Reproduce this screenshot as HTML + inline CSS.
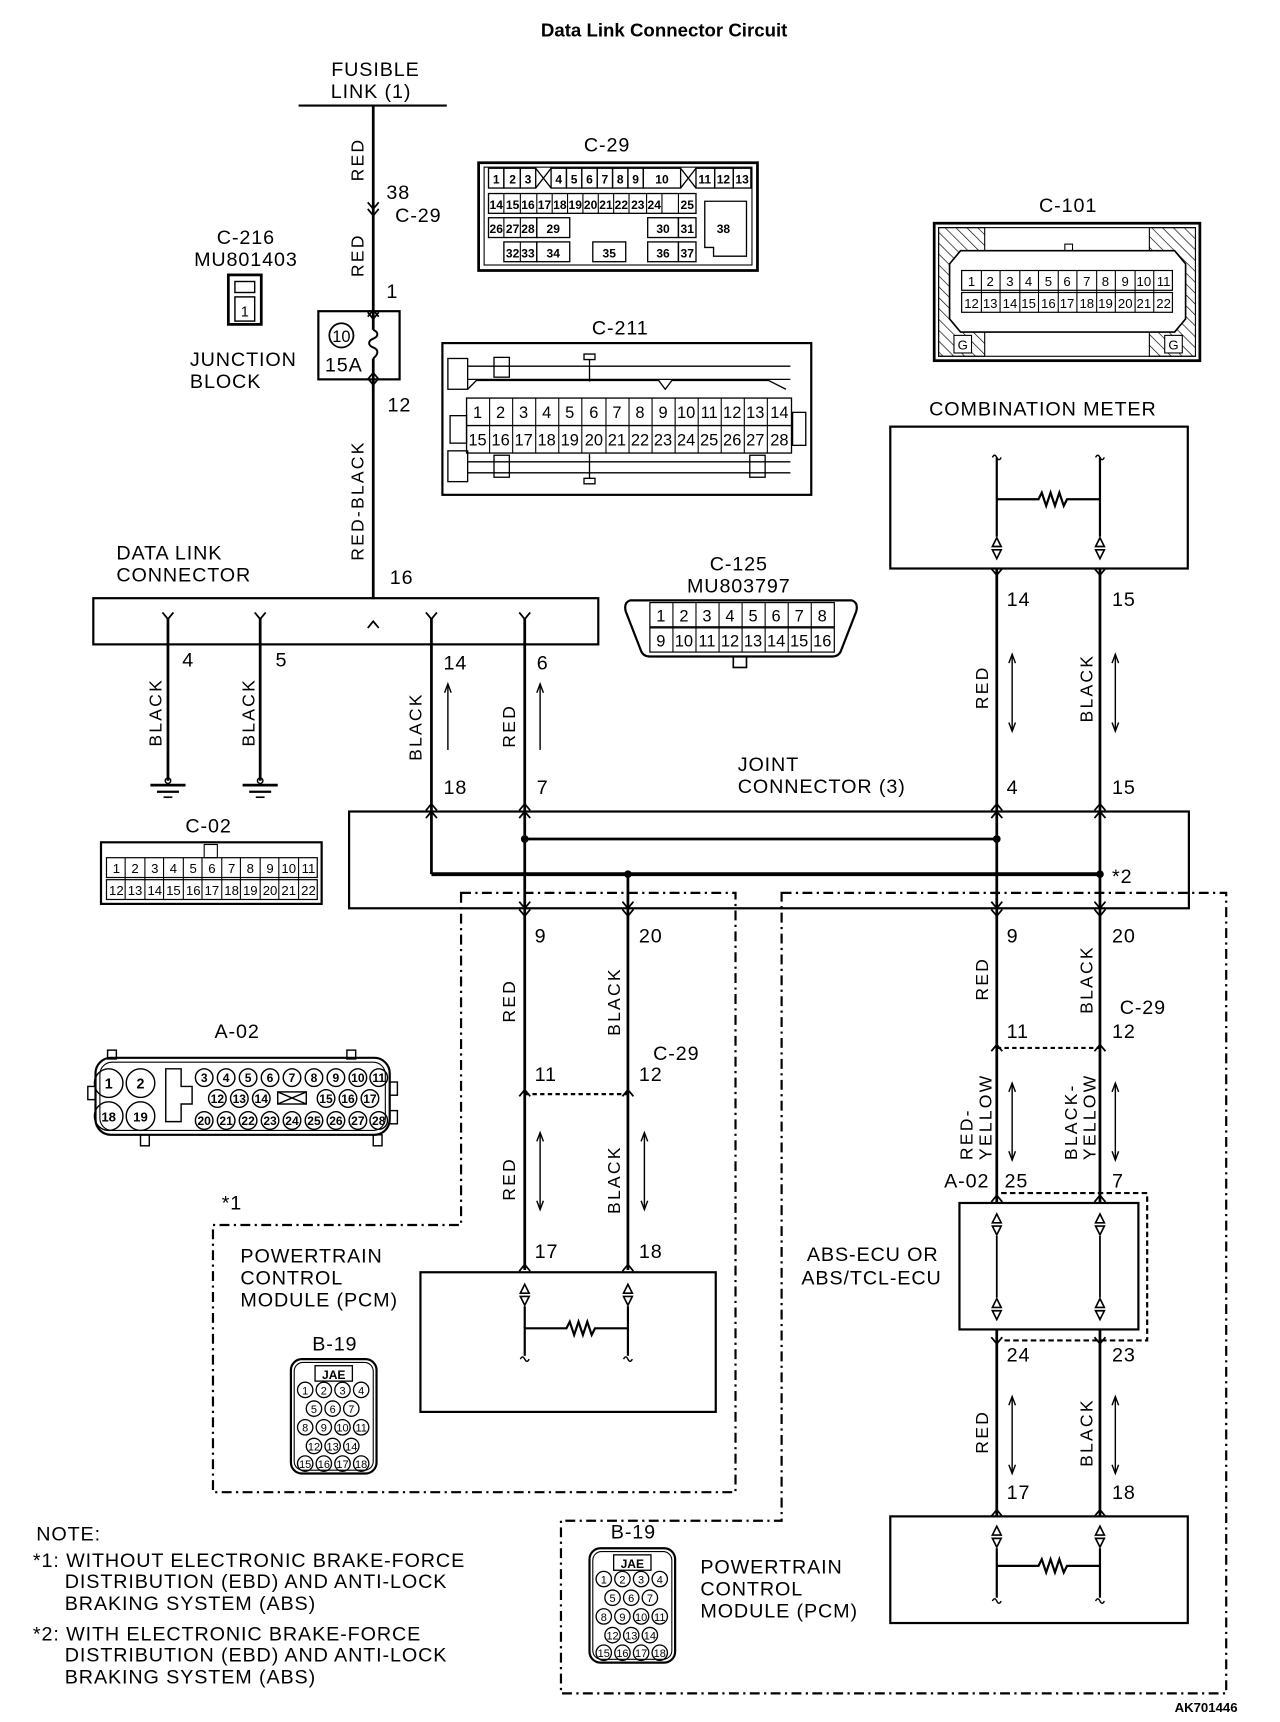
<!DOCTYPE html>
<html><head><meta charset="utf-8"><style>
html,body{margin:0;padding:0;background:#fff}
svg{display:block}
text{font-family:"Liberation Sans",sans-serif;fill:#000}
.t{font-size:18px;letter-spacing:0.8px}
.v{font-size:16px;letter-spacing:2px}
.n{font-size:12px;text-anchor:middle}
.nb{font-size:11px;text-anchor:middle;font-weight:bold}
</style></head><body>
<svg width="1280" height="1722" viewBox="0 0 1166 1566" preserveAspectRatio="none" xmlns="http://www.w3.org/2000/svg">
<defs>
<g id="dn"><path d="M-5,-6 L0,0 L5,-6" fill="none" stroke="#000" stroke-width="1.6"/></g>
<g id="up"><path d="M-5,6 L0,0 L5,6" fill="none" stroke="#000" stroke-width="1.6"/></g>
<g id="tri"><path d="M-4,-1 L0,-9 L4,-1 Z" fill="none" stroke="#000" stroke-width="1.5"/><path d="M-4,2 L0,10 L4,2 Z" fill="none" stroke="#000" stroke-width="1.5"/></g>
<g id="res"><path d="M0,0 h38 l3,-6 l4,12 l4,-12 l4,12 l4,-12 l4,12 l3,-6 h30" fill="none" stroke="#000" stroke-width="2"/></g>
<g id="arud"><line x1="0" y1="0" x2="0" y2="70" stroke="#000" stroke-width="1.3"/><path d="M-3,8 L0,0 L3,8 M-3,62 L0,70 L3,62" fill="none" stroke="#000" stroke-width="1.3"/></g>
<g id="aru"><line x1="0" y1="0" x2="0" y2="60" stroke="#000" stroke-width="1.3"/><path d="M-3,8 L0,0 L3,8" fill="none" stroke="#000" stroke-width="1.3"/></g>
<g id="gnd"><circle cx="0" cy="-3" r="2.5" fill="none" stroke="#000" stroke-width="1.3"/><line x1="-16" y1="1" x2="16" y2="1" stroke="#000" stroke-width="2.5"/><line x1="-10" y1="7" x2="10" y2="7" stroke="#000" stroke-width="2"/><line x1="-4" y1="12" x2="4" y2="12" stroke="#000" stroke-width="1.5"/></g>
<g id="b19"><rect x="0" y="0" width="78" height="104" rx="10" fill="none" stroke="#000" stroke-width="2"/><rect x="3" y="3" width="72" height="98" rx="8" fill="none" stroke="#000" stroke-width="1"/>
<rect x="22" y="6" width="34" height="14" fill="none" stroke="#000" stroke-width="1.2"/><text x="39" y="18" class="nb">JAE</text>
<g fill="none" stroke="#000" stroke-width="1.2">
<circle cx="13" cy="28" r="7"/><circle cx="30" cy="28" r="7"/><circle cx="47" cy="28" r="7"/><circle cx="64" cy="28" r="7"/>
<circle cx="21" cy="45" r="7"/><circle cx="38" cy="45" r="7"/><circle cx="55" cy="45" r="7"/>
<circle cx="13" cy="62" r="7"/><circle cx="30" cy="62" r="7"/><circle cx="47" cy="62" r="7"/><circle cx="64" cy="62" r="7"/>
<circle cx="21" cy="79" r="7"/><circle cx="38" cy="79" r="7"/><circle cx="55" cy="79" r="7"/>
<circle cx="13" cy="95" r="7"/><circle cx="30" cy="95" r="7"/><circle cx="47" cy="95" r="7"/><circle cx="64" cy="95" r="7"/></g>
<g font-size="10" text-anchor="middle">
<text x="13" y="32">1</text><text x="30" y="32">2</text><text x="47" y="32">3</text><text x="64" y="32">4</text>
<text x="21" y="49">5</text><text x="38" y="49">6</text><text x="55" y="49">7</text>
<text x="13" y="66">8</text><text x="30" y="66">9</text><text x="47" y="66">10</text><text x="64" y="66">11</text>
<text x="21" y="83">12</text><text x="38" y="83">13</text><text x="55" y="83">14</text>
<text x="13" y="99">15</text><text x="30" y="99">16</text><text x="47" y="99">17</text><text x="64" y="99">18</text></g></g>
</defs>

<text x="605" y="33" font-size="17" font-weight="bold" text-anchor="middle">Data Link Connector Circuit</text>

<text x="342" y="69" class="t" text-anchor="middle">FUSIBLE</text>
<text x="338" y="89" class="t" text-anchor="middle">LINK (1)</text>
<line x1="272" y1="96" x2="407" y2="96" stroke="#000" stroke-width="2"/>
<line x1="340" y1="96" x2="340" y2="545" stroke="#000" stroke-width="2.5"/>
<text transform="translate(331,165) rotate(-90)" class="v">RED</text>
<text x="352" y="181" class="t">38</text><text x="360" y="202" class="t">C-29</text>
<use href="#dn" x="340" y="190"/><use href="#dn" x="340" y="196"/>
<text transform="translate(331,252) rotate(-90)" class="v">RED</text>
<text x="352" y="271" class="t">1</text>
<rect x="290" y="283" width="74" height="62" fill="#fff" stroke="#000" stroke-width="2"/>
<line x1="340" y1="283" x2="340" y2="300" stroke="#000" stroke-width="2.5"/>
<line x1="340" y1="326" x2="340" y2="345" stroke="#000" stroke-width="2.5"/>
<path d="M340,300 c5,2 5,6 0,8 c-5,2 -5,6 0,8 c5,2 5,6 0,10" fill="none" stroke="#000" stroke-width="1.8"/>
<use href="#up" x="340" y="282"/><use href="#dn" x="340" y="290"/>
<use href="#up" x="340" y="339"/><use href="#dn" x="340" y="350"/>
<circle cx="311" cy="305" r="11" fill="none" stroke="#000" stroke-width="1.6"/>
<text x="311" y="311" font-size="15" text-anchor="middle">10</text>
<text x="296" y="338" class="t">15A</text>
<text x="353" y="374" class="t">12</text>
<text transform="translate(331,510) rotate(-90)" class="v">RED-BLACK</text>
<text x="355" y="531" class="t">16</text>

<text x="224" y="222" class="t" text-anchor="middle">C-216</text>
<text x="224" y="242" class="t" text-anchor="middle">MU801403</text>
<rect x="208" y="250" width="30" height="45" fill="none" stroke="#000" stroke-width="2.5"/>
<rect x="214" y="256" width="18" height="10" fill="none" stroke="#000" stroke-width="1.3"/>
<rect x="214" y="270" width="18" height="22" fill="none" stroke="#000" stroke-width="1.3"/>
<text x="223" y="288" font-size="13" text-anchor="middle">1</text>
<text x="173" y="333" class="t">JUNCTION</text><text x="173" y="353" class="t">BLOCK</text>

<text x="106" y="509" class="t">DATA LINK</text><text x="106" y="529" class="t">CONNECTOR</text>
<rect x="85" y="544" width="460" height="42" fill="none" stroke="#000" stroke-width="2"/>
<g stroke="#000" stroke-width="2.5">
<line x1="153" y1="562" x2="153" y2="710"/><line x1="237" y1="562" x2="237" y2="710"/>
<line x1="393" y1="562" x2="393" y2="738"/><line x1="478" y1="562" x2="478" y2="738"/>
</g>
<use href="#dn" x="153" y="563"/><use href="#dn" x="237" y="563"/><use href="#dn" x="393" y="563"/><use href="#dn" x="478" y="563"/>
<use href="#up" x="340" y="565"/>
<use href="#gnd" x="153" y="713"/><use href="#gnd" x="237" y="713"/>
<text x="166" y="606" class="t">4</text><text x="251" y="606" class="t">5</text>
<text x="404" y="609" class="t">14</text><text x="489" y="609" class="t">6</text>
<text transform="translate(147,679) rotate(-90)" class="v">BLACK</text>
<text transform="translate(232,679) rotate(-90)" class="v">BLACK</text>
<text transform="translate(384,692) rotate(-90)" class="v">BLACK</text>
<text transform="translate(469,680) rotate(-90)" class="v">RED</text>
<use href="#aru" x="408" y="622"/><use href="#aru" x="492" y="622"/>
<text x="404" y="722" class="t">18</text><text x="489" y="722" class="t">7</text>

<text x="672" y="701" class="t">JOINT</text><text x="672" y="721" class="t">CONNECTOR (3)</text>
<text x="917" y="722" class="t">4</text><text x="1013" y="722" class="t">15</text>

<rect x="318" y="738" width="765" height="88" fill="none" stroke="#000" stroke-width="2"/>
<g stroke="#000" stroke-width="2.5">
<line x1="393" y1="738" x2="393" y2="795"/>
<line x1="478" y1="738" x2="478" y2="1155"/>
<line x1="572" y1="795" x2="572" y2="1155"/>
<line x1="908" y1="517" x2="908" y2="1395"/>
<line x1="1002" y1="517" x2="1002" y2="1395"/>
</g>
<line x1="478" y1="763" x2="908" y2="763" stroke="#000" stroke-width="2.5"/>
<line x1="393" y1="795" x2="1002" y2="795" stroke="#000" stroke-width="3.5"/>
<circle cx="478" cy="763" r="3.5"/><circle cx="908" cy="763" r="3.5"/><circle cx="572" cy="795" r="3.5"/><circle cx="1002" cy="795" r="3.5"/>
<text x="1013" y="803" class="t">*2</text>
<g>
<use href="#up" x="393" y="731"/><use href="#up" x="393" y="738"/>
<use href="#up" x="478" y="731"/><use href="#up" x="478" y="738"/>
<use href="#up" x="908" y="731"/><use href="#up" x="908" y="738"/>
<use href="#up" x="1002" y="731"/><use href="#up" x="1002" y="738"/>
<use href="#dn" x="478" y="826"/><use href="#dn" x="478" y="833"/>
<use href="#dn" x="572" y="826"/><use href="#dn" x="572" y="833"/>
<use href="#dn" x="908" y="826"/><use href="#dn" x="908" y="833"/>
<use href="#dn" x="1002" y="826"/><use href="#dn" x="1002" y="833"/>
</g>

<text x="487" y="857" class="t">9</text><text x="582" y="857" class="t">20</text>
<text transform="translate(469,930) rotate(-90)" class="v">RED</text>
<text transform="translate(565,942) rotate(-90)" class="v">BLACK</text>
<text x="595" y="964" class="t">C-29</text>
<text x="487" y="983" class="t">11</text><text x="582" y="983" class="t">12</text>
<line x1="478" y1="995" x2="572" y2="995" stroke="#000" stroke-width="2" stroke-dasharray="4,3"/>
<use href="#up" x="478" y="991"/><use href="#up" x="572" y="991"/>
<text transform="translate(469,1092) rotate(-90)" class="v">RED</text>
<text transform="translate(565,1104) rotate(-90)" class="v">BLACK</text>
<use href="#arud" x="492" y="1030"/><use href="#arud" x="587" y="1030"/>
<text x="487" y="1144" class="t">17</text><text x="582" y="1144" class="t">18</text>
<use href="#up" x="478" y="1150"/><use href="#up" x="572" y="1150"/>
<rect x="383" y="1157" width="269" height="127" fill="none" stroke="#000" stroke-width="2"/>
<use href="#tri" x="478" y="1177"/><use href="#tri" x="572" y="1177"/>
<line x1="478" y1="1188" x2="478" y2="1233" stroke="#000" stroke-width="2"/>
<line x1="572" y1="1188" x2="572" y2="1233" stroke="#000" stroke-width="2"/>
<use href="#res" x="478" y="1208"/>
<path d="M474,1236 q2,-4 4,0 q2,4 4,0 M568,1236 q2,-4 4,0 q2,4 4,0" fill="none" stroke="#000" stroke-width="1.3"/>

<path d="M420,812 L670,812 L670,1357 L194,1357 L194,1114 L420,1114 Z" fill="none" stroke="#000" stroke-width="2" stroke-dasharray="9,4,2,4"/>
<text x="202" y="1100" class="t">*1</text>
<text x="219" y="1148" class="t">POWERTRAIN</text><text x="219" y="1168" class="t">CONTROL</text><text x="219" y="1188" class="t">MODULE (PCM)</text>
<text x="305" y="1228" class="t" text-anchor="middle">B-19</text>
<use href="#b19" x="265" y="1236"/>

<text x="950" y="378" class="t" text-anchor="middle">COMBINATION METER</text>
<rect x="811" y="388" width="271" height="129" fill="none" stroke="#000" stroke-width="2"/>
<line x1="908" y1="416" x2="908" y2="488" stroke="#000" stroke-width="2"/>
<line x1="1002" y1="416" x2="1002" y2="488" stroke="#000" stroke-width="2"/>
<path d="M904,416 q2,-4 4,0 q2,4 4,0 M998,416 q2,-4 4,0 q2,4 4,0" fill="none" stroke="#000" stroke-width="1.3"/>
<use href="#res" x="908" y="454"/>
<use href="#tri" x="908" y="498"/><use href="#tri" x="1002" y="498"/>
<use href="#dn" x="908" y="523"/><use href="#dn" x="1002" y="523"/>
<text x="917" y="551" class="t">14</text><text x="1013" y="551" class="t">15</text>
<text transform="translate(900,645) rotate(-90)" class="v">RED</text>
<text transform="translate(995,657) rotate(-90)" class="v">BLACK</text>
<use href="#arud" x="922" y="595"/><use href="#arud" x="1016" y="595"/>

<text x="917" y="857" class="t">9</text><text x="1013" y="857" class="t">20</text>
<text transform="translate(900,910) rotate(-90)" class="v">RED</text>
<text transform="translate(995,922) rotate(-90)" class="v">BLACK</text>
<text x="1020" y="922" class="t">C-29</text>
<text x="917" y="944" class="t">11</text><text x="1013" y="944" class="t">12</text>
<line x1="908" y1="953" x2="1002" y2="953" stroke="#000" stroke-width="2" stroke-dasharray="4,3"/>
<use href="#up" x="908" y="950"/><use href="#up" x="1002" y="950"/>
<text transform="translate(886,1055) rotate(-90)" class="v">RED-</text>
<text transform="translate(903,1055) rotate(-90)" class="v">YELLOW</text>
<text transform="translate(981,1055) rotate(-90)" class="v">BLACK-</text>
<text transform="translate(998,1055) rotate(-90)" class="v">YELLOW</text>
<use href="#arud" x="922" y="985"/><use href="#arud" x="1016" y="985"/>
<text x="860" y="1080" class="t">A-02</text><text x="915" y="1080" class="t">25</text><text x="1013" y="1080" class="t">7</text>
<use href="#up" x="908" y="1087"/><use href="#up" x="1002" y="1087"/>
<rect x="874" y="1094" width="163" height="115" fill="#fff" stroke="#000" stroke-width="2"/>
<path d="M912,1085 L1045,1085 L1045,1219 L912,1219" fill="none" stroke="#000" stroke-width="2" stroke-dasharray="5,3"/>
<use href="#tri" x="908" y="1113"/><use href="#tri" x="1002" y="1113"/>
<use href="#tri" x="908" y="1190"/><use href="#tri" x="1002" y="1190"/>
<line x1="908" y1="1124" x2="908" y2="1180" stroke="#000" stroke-width="1.6"/>
<line x1="1002" y1="1124" x2="1002" y2="1180" stroke="#000" stroke-width="1.6"/>
<text x="735" y="1147" class="t">ABS-ECU OR</text><text x="730" y="1168" class="t">ABS/TCL-ECU</text>
<use href="#dn" x="908" y="1222"/><use href="#dn" x="1002" y="1222"/>
<text x="917" y="1238" class="t">24</text><text x="1013" y="1238" class="t">23</text>
<text transform="translate(900,1322) rotate(-90)" class="v">RED</text>
<text transform="translate(995,1334) rotate(-90)" class="v">BLACK</text>
<use href="#arud" x="922" y="1270"/><use href="#arud" x="1016" y="1270"/>
<text x="917" y="1363" class="t">17</text><text x="1013" y="1363" class="t">18</text>
<use href="#up" x="908" y="1373"/><use href="#up" x="1002" y="1373"/>
<rect x="811" y="1379" width="271" height="97" fill="#fff" stroke="#000" stroke-width="2"/>
<use href="#tri" x="908" y="1397"/><use href="#tri" x="1002" y="1397"/>
<line x1="908" y1="1408" x2="908" y2="1453" stroke="#000" stroke-width="2"/>
<line x1="1002" y1="1408" x2="1002" y2="1453" stroke="#000" stroke-width="2"/>
<use href="#res" x="908" y="1424"/>
<path d="M904,1456 q2,-4 4,0 q2,4 4,0 M998,1456 q2,-4 4,0 q2,4 4,0" fill="none" stroke="#000" stroke-width="1.3"/>

<path d="M712,812 L1117,812 L1117,1540 L511,1540 L511,1383 L712,1383 Z" fill="none" stroke="#000" stroke-width="2" stroke-dasharray="9,4,2,4"/>
<text x="577" y="1399" class="t" text-anchor="middle">B-19</text>
<use href="#b19" x="537" y="1408"/>
<text x="638" y="1431" class="t">POWERTRAIN</text><text x="638" y="1451" class="t">CONTROL</text><text x="638" y="1471" class="t">MODULE (PCM)</text>

<g>
<text x="33" y="1401" class="t">NOTE:</text>
<text x="30" y="1425" class="t">*1: WITHOUT ELECTRONIC BRAKE-FORCE</text>
<text x="59" y="1444" class="t">DISTRIBUTION (EBD) AND ANTI-LOCK</text>
<text x="59" y="1464" class="t">BRAKING SYSTEM (ABS)</text>
<text x="30" y="1492" class="t">*2: WITH ELECTRONIC BRAKE-FORCE</text>
<text x="59" y="1511" class="t">DISTRIBUTION (EBD) AND ANTI-LOCK</text>
<text x="59" y="1531" class="t">BRAKING SYSTEM (ABS)</text>
</g>
<text x="1070" y="1557" font-size="12" font-weight="bold">AK701446</text>

<text x="553" y="138" class="t" text-anchor="middle">C-29</text>
<rect x="436" y="148" width="254" height="98" fill="none" stroke="#000" stroke-width="2.5"/>
<rect x="441" y="152" width="244" height="89" fill="none" stroke="#000" stroke-width="1"/>
<g fill="none" stroke="#000" stroke-width="1.2">
<rect x="445" y="153" width="14" height="18"/><rect x="459" y="153" width="15" height="18"/><rect x="474" y="153" width="14" height="18"/>
<path d="M488,153 l14,18 M502,153 l-14,18"/>
<rect x="502" y="153" width="14" height="18"/><rect x="516" y="153" width="14" height="18"/><rect x="530" y="153" width="14" height="18"/><rect x="544" y="153" width="14" height="18"/><rect x="558" y="153" width="14" height="18"/><rect x="572" y="153" width="14" height="18"/><rect x="586" y="153" width="34" height="18"/>
<path d="M620,153 l14,18 M634,153 l-14,18"/>
<rect x="634" y="153" width="17" height="18"/><rect x="651" y="153" width="17" height="18"/><rect x="668" y="153" width="16" height="18"/>
<rect x="445" y="176" width="189" height="18"/>
<rect x="445" y="198" width="44" height="18"/><rect x="489" y="198" width="30" height="18"/><rect x="590" y="198" width="28" height="18"/><rect x="618" y="198" width="16" height="18"/>
<rect x="459" y="220" width="30" height="18"/><rect x="489" y="220" width="30" height="18"/><rect x="540" y="220" width="30" height="18"/><rect x="590" y="220" width="28" height="18"/><rect x="618" y="220" width="16" height="18"/>
<path d="M642,183 h38 v50 h-30 v-8 h-8 z"/>
</g>
<g class="nb">
<text x="452" y="167">1</text><text x="467" y="167">2</text><text x="481" y="167">3</text>
<text x="509" y="167">4</text><text x="523" y="167">5</text><text x="537" y="167">6</text><text x="551" y="167">7</text><text x="565" y="167">8</text><text x="579" y="167">9</text><text x="603" y="167">10</text>
<text x="642" y="167">11</text><text x="659" y="167">12</text><text x="676" y="167">13</text>
<text x="452" y="190">14</text><text x="467" y="190">15</text><text x="481" y="190">16</text><text x="496" y="190">17</text><text x="510" y="190">18</text><text x="524" y="190">19</text><text x="538" y="190">20</text><text x="552" y="190">21</text><text x="566" y="190">22</text><text x="581" y="190">23</text><text x="596" y="190">24</text><text x="626" y="190">25</text>
<text x="452" y="212">26</text><text x="467" y="212">27</text><text x="481" y="212">28</text><text x="504" y="212">29</text><text x="604" y="212">30</text><text x="626" y="212">31</text>
<text x="467" y="234">32</text><text x="481" y="234">33</text><text x="504" y="234">34</text><text x="555" y="234">35</text><text x="604" y="234">36</text><text x="626" y="234">37</text>
<text x="659" y="212">38</text>
</g>
<g stroke="#000" stroke-width="1">
<line x1="459" y1="176" x2="459" y2="194"/><line x1="474" y1="176" x2="474" y2="194"/><line x1="489" y1="176" x2="489" y2="194"/><line x1="503" y1="176" x2="503" y2="194"/><line x1="517" y1="176" x2="517" y2="194"/><line x1="531" y1="176" x2="531" y2="194"/><line x1="545" y1="176" x2="545" y2="194"/><line x1="559" y1="176" x2="559" y2="194"/><line x1="573" y1="176" x2="573" y2="194"/><line x1="589" y1="176" x2="589" y2="194"/><line x1="603" y1="176" x2="603" y2="194"/><line x1="618" y1="176" x2="618" y2="194"/>
<line x1="459" y1="198" x2="459" y2="216"/><line x1="474" y1="198" x2="474" y2="216"/><line x1="474" y1="220" x2="474" y2="238"/>
</g>

<text x="973" y="193" class="t" text-anchor="middle">C-101</text>
<defs><pattern id="h" width="7" height="7" patternUnits="userSpaceOnUse" patternTransform="rotate(-45)"><line x1="0" y1="0" x2="0" y2="7" stroke="#000" stroke-width="1.2"/></pattern></defs>
<rect x="851" y="203" width="242" height="125" fill="none" stroke="#000" stroke-width="2.5"/>
<rect x="855" y="207" width="234" height="117" fill="none" stroke="#000" stroke-width="1"/>
<rect x="855" y="207" width="42" height="117" fill="url(#h)" stroke="#000" stroke-width="1"/>
<rect x="1047" y="207" width="42" height="117" fill="url(#h)" stroke="#000" stroke-width="1"/>
<path d="M875,228 L1070,228 L1080,240 L1080,290 L1070,302 L875,302 L865,290 L865,240 Z" fill="#fff" stroke="#000" stroke-width="1.5"/>
<rect x="869" y="305" width="16" height="16" fill="#fff" stroke="#000" stroke-width="1"/><text x="877" y="318" class="n">G</text>
<rect x="1061" y="305" width="16" height="16" fill="#fff" stroke="#000" stroke-width="1"/><text x="1069" y="318" class="n">G</text>
<rect x="970" y="222" width="7" height="6" fill="none" stroke="#000" stroke-width="1"/>
<g fill="none" stroke="#000" stroke-width="1.1"><rect x="876" y="246" width="192" height="18"/><rect x="876" y="266" width="192" height="18"/></g>
<g class="n" font-size="12">
<text x="885" y="260">1</text><text x="902" y="260">2</text><text x="920" y="260">3</text><text x="937" y="260">4</text><text x="955" y="260">5</text><text x="972" y="260">6</text><text x="990" y="260">7</text><text x="1007" y="260">8</text><text x="1025" y="260">9</text><text x="1042" y="260">10</text><text x="1060" y="260">11</text>
<text x="885" y="280">12</text><text x="902" y="280">13</text><text x="920" y="280">14</text><text x="937" y="280">15</text><text x="955" y="280">16</text><text x="972" y="280">17</text><text x="990" y="280">18</text><text x="1007" y="280">19</text><text x="1025" y="280">20</text><text x="1042" y="280">21</text><text x="1060" y="280">22</text>
</g>
<g stroke="#000" stroke-width="1">
<line x1="894" y1="246" x2="894" y2="284"/><line x1="911" y1="246" x2="911" y2="284"/><line x1="929" y1="246" x2="929" y2="284"/><line x1="946" y1="246" x2="946" y2="284"/><line x1="964" y1="246" x2="964" y2="284"/><line x1="981" y1="246" x2="981" y2="284"/><line x1="999" y1="246" x2="999" y2="284"/><line x1="1016" y1="246" x2="1016" y2="284"/><line x1="1034" y1="246" x2="1034" y2="284"/><line x1="1051" y1="246" x2="1051" y2="284"/>
</g>

<text x="565" y="304" class="t" text-anchor="middle">C-211</text>
<rect x="403" y="312" width="336" height="138" fill="none" stroke="#000" stroke-width="2"/>
<g fill="none" stroke="#000" stroke-width="1.2">
<rect x="408" y="326" width="18" height="28"/><rect x="450" y="325" width="14" height="18"/><rect x="408" y="410" width="18" height="28"/><rect x="450" y="414" width="14" height="20"/><rect x="683" y="414" width="14" height="20"/>
<line x1="426" y1="333" x2="720" y2="333"/><line x1="426" y1="345" x2="720" y2="345"/>
<line x1="426" y1="420" x2="720" y2="420"/><line x1="426" y1="430" x2="720" y2="430"/>
<path d="M426,354 L434,346 L600,346 L606,354 L612,346 L700,346 L716,354"/>
<path d="M532,327 h10 v-5 h-10 z M537,327 v20 M532,435 h10 v5 h-10 z M537,435 v-22"/>
<rect x="410" y="378" width="15" height="25"/><rect x="722" y="375" width="12" height="30"/>
<rect x="425" y="362" width="296" height="50"/><line x1="425" y1="387" x2="721" y2="387"/>
</g>
<g stroke="#000" stroke-width="1">
<line x1="446" y1="362" x2="446" y2="412"/><line x1="467" y1="362" x2="467" y2="412"/><line x1="488" y1="362" x2="488" y2="412"/><line x1="509" y1="362" x2="509" y2="412"/><line x1="530" y1="362" x2="530" y2="412"/><line x1="552" y1="362" x2="552" y2="412"/><line x1="573" y1="362" x2="573" y2="412"/><line x1="594" y1="362" x2="594" y2="412"/><line x1="615" y1="362" x2="615" y2="412"/><line x1="636" y1="362" x2="636" y2="412"/><line x1="657" y1="362" x2="657" y2="412"/><line x1="678" y1="362" x2="678" y2="412"/><line x1="699" y1="362" x2="699" y2="412"/>
</g>
<g text-anchor="middle" font-size="15">
<text x="435" y="380">1</text><text x="456" y="380">2</text><text x="477" y="380">3</text><text x="498" y="380">4</text><text x="519" y="380">5</text><text x="541" y="380">6</text><text x="562" y="380">7</text><text x="583" y="380">8</text><text x="604" y="380">9</text><text x="625" y="380">10</text><text x="646" y="380">11</text><text x="667" y="380">12</text><text x="688" y="380">13</text><text x="710" y="380">14</text>
<text x="435" y="405">15</text><text x="456" y="405">16</text><text x="477" y="405">17</text><text x="498" y="405">18</text><text x="519" y="405">19</text><text x="541" y="405">20</text><text x="562" y="405">21</text><text x="583" y="405">22</text><text x="604" y="405">23</text><text x="625" y="405">24</text><text x="646" y="405">25</text><text x="667" y="405">26</text><text x="688" y="405">27</text><text x="710" y="405">28</text>
</g>

<text x="673" y="519" class="t" text-anchor="middle">C-125</text>
<text x="673" y="539" class="t" text-anchor="middle">MU803797</text>
<path d="M574,546 L776,546 Q782,548 780,556 L766,592 Q764,597 758,597 L592,597 Q586,597 584,592 L570,556 Q568,548 574,546 Z" fill="none" stroke="#000" stroke-width="2"/>
<rect x="668" y="597" width="12" height="10" fill="none" stroke="#000" stroke-width="1.5"/>
<g fill="none" stroke="#000" stroke-width="1.1"><rect x="592" y="548" width="168" height="22"/><rect x="592" y="571" width="168" height="22"/></g>
<g stroke="#000" stroke-width="1">
<line x1="613" y1="548" x2="613" y2="593"/><line x1="634" y1="548" x2="634" y2="593"/><line x1="655" y1="548" x2="655" y2="593"/><line x1="676" y1="548" x2="676" y2="593"/><line x1="697" y1="548" x2="697" y2="593"/><line x1="718" y1="548" x2="718" y2="593"/><line x1="739" y1="548" x2="739" y2="593"/>
</g>
<g text-anchor="middle" font-size="15">
<text x="602" y="565">1</text><text x="623" y="565">2</text><text x="644" y="565">3</text><text x="665" y="565">4</text><text x="686" y="565">5</text><text x="707" y="565">6</text><text x="728" y="565">7</text><text x="749" y="565">8</text>
<text x="602" y="588">9</text><text x="623" y="588">10</text><text x="644" y="588">11</text><text x="665" y="588">12</text><text x="686" y="588">13</text><text x="707" y="588">14</text><text x="728" y="588">15</text><text x="749" y="588">16</text>
</g>

<text x="190" y="757" class="t" text-anchor="middle">C-02</text>
<rect x="92" y="766" width="201" height="56" fill="none" stroke="#000" stroke-width="2"/>
<rect x="186" y="768" width="12" height="12" fill="none" stroke="#000" stroke-width="1"/>
<g fill="none" stroke="#000" stroke-width="1.1"><rect x="97" y="780" width="192" height="18"/><rect x="97" y="800" width="192" height="18"/></g>
<g stroke="#000" stroke-width="1">
<line x1="114" y1="780" x2="114" y2="818"/><line x1="132" y1="780" x2="132" y2="818"/><line x1="149" y1="780" x2="149" y2="818"/><line x1="167" y1="780" x2="167" y2="818"/><line x1="184" y1="780" x2="184" y2="818"/><line x1="202" y1="780" x2="202" y2="818"/><line x1="219" y1="780" x2="219" y2="818"/><line x1="237" y1="780" x2="237" y2="818"/><line x1="254" y1="780" x2="254" y2="818"/><line x1="272" y1="780" x2="272" y2="818"/>
</g>
<g class="n">
<text x="106" y="794">1</text><text x="123" y="794">2</text><text x="141" y="794">3</text><text x="158" y="794">4</text><text x="176" y="794">5</text><text x="193" y="794">6</text><text x="211" y="794">7</text><text x="228" y="794">8</text><text x="246" y="794">9</text><text x="263" y="794">10</text><text x="281" y="794">11</text>
<text x="106" y="814">12</text><text x="123" y="814">13</text><text x="141" y="814">14</text><text x="158" y="814">15</text><text x="176" y="814">16</text><text x="193" y="814">17</text><text x="211" y="814">18</text><text x="228" y="814">19</text><text x="246" y="814">20</text><text x="263" y="814">21</text><text x="281" y="814">22</text>
</g>

<text x="216" y="944" class="t" text-anchor="middle">A-02</text>
<rect x="87" y="962" width="268" height="70" rx="14" fill="none" stroke="#000" stroke-width="2"/>
<rect x="91" y="966" width="260" height="62" rx="11" fill="none" stroke="#000" stroke-width="1"/>
<g fill="none" stroke="#000" stroke-width="1.3">
<rect x="98" y="955" width="8" height="8"/><rect x="316" y="955" width="8" height="8"/><rect x="128" y="1032" width="8" height="10"/><rect x="340" y="1032" width="8" height="10"/>
<rect x="80" y="988" width="7" height="12"/><rect x="355" y="984" width="7" height="12"/><rect x="355" y="1010" width="7" height="12"/>
<path d="M151,972 h14 v16 h10 v16 h-10 v16 h-14 z"/>
<circle cx="99" cy="985" r="13"/><circle cx="128" cy="985" r="13"/><circle cx="99" cy="1015" r="13"/><circle cx="128" cy="1015" r="13"/>
<circle cx="186" cy="980" r="8"/><circle cx="206" cy="980" r="8"/><circle cx="226" cy="980" r="8"/><circle cx="246" cy="980" r="8"/><circle cx="266" cy="980" r="8"/><circle cx="286" cy="980" r="8"/><circle cx="306" cy="980" r="8"/><circle cx="326" cy="980" r="8"/><circle cx="345" cy="980" r="8"/>
<circle cx="198" cy="999" r="8"/><circle cx="218" cy="999" r="8"/><circle cx="238" cy="999" r="8"/><rect x="253" y="993" width="26" height="11"/><path d="M253,993 l26,11 M279,993 l-26,11"/><circle cx="297" cy="999" r="8"/><circle cx="317" cy="999" r="8"/><circle cx="337" cy="999" r="8"/>
<circle cx="186" cy="1019" r="8"/><circle cx="206" cy="1019" r="8"/><circle cx="226" cy="1019" r="8"/><circle cx="246" cy="1019" r="8"/><circle cx="266" cy="1019" r="8"/><circle cx="286" cy="1019" r="8"/><circle cx="306" cy="1019" r="8"/><circle cx="326" cy="1019" r="8"/><circle cx="345" cy="1019" r="8"/>
</g>
<g text-anchor="middle" font-size="11" font-weight="bold">
<text x="99" y="990" font-size="13">1</text><text x="128" y="990" font-size="13">2</text><text x="99" y="1020" font-size="12">18</text><text x="128" y="1020" font-size="12">19</text>
<text x="186" y="984">3</text><text x="206" y="984">4</text><text x="226" y="984">5</text><text x="246" y="984">6</text><text x="266" y="984">7</text><text x="286" y="984">8</text><text x="306" y="984">9</text><text x="326" y="984">10</text><text x="345" y="984">11</text>
<text x="198" y="1003">12</text><text x="218" y="1003">13</text><text x="238" y="1003">14</text><text x="297" y="1003">15</text><text x="317" y="1003">16</text><text x="337" y="1003">17</text>
<text x="186" y="1023">20</text><text x="206" y="1023">21</text><text x="226" y="1023">22</text><text x="246" y="1023">23</text><text x="266" y="1023">24</text><text x="286" y="1023">25</text><text x="306" y="1023">26</text><text x="326" y="1023">27</text><text x="345" y="1023">28</text>
</g>
</svg>
</body></html>
